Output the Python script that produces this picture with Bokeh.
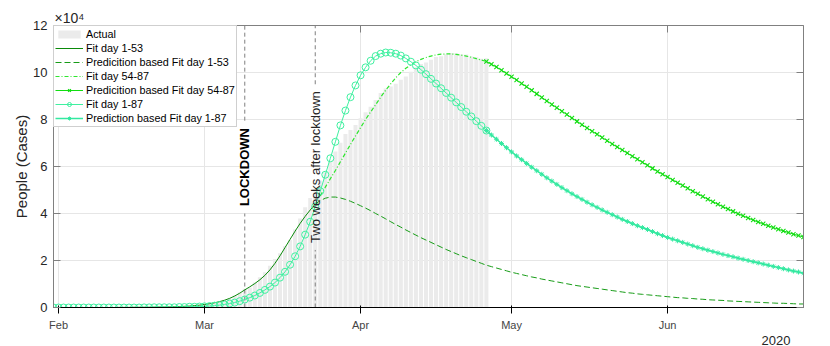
import pandas as pd
from math import pi
from bokeh.plotting import figure
from bokeh.models import (Range1d, FixedTicker, DatetimeTickFormatter, DatetimeAxis,
                          LinearAxis, Legend, LegendItem, Label, Title, ColumnDataSource)
from bokeh.embed import file_html
from bokeh.resources import INLINE

# ---------------- data ----------------
START = "2020-01-31"          # day 1
N_DAYS = 150
month_ticks = ["2020-02-01", "2020-03-01", "2020-04-01", "2020-05-01", "2020-06-01"]
month_labels = ["Feb", "Mar", "Apr", "May", "Jun"]
y_ticks = [0, 2, 4, 6, 8, 10, 12]
year_label = "2020"
exponent_label = "\u00d710\u2074"
lockdown_date = "2020-03-09"
two_weeks_date = "2020-03-23"

# actual active cases, day 1..87
actual = [2, 2, 2, 2, 2, 2, 3, 3, 3, 3, 3, 3, 3, 3, 3, 3, 3, 3, 3, 3, 3,
          17, 76, 150, 221, 311, 385, 588, 821, 1049,
          1577, 1835, 2263, 2706, 3296, 3916, 5061, 6387, 7985, 8514, 10590, 12839, 14955,
          17750, 20603, 23073, 26062, 28710, 33190, 37860, 42681, 46638, 50418, 54030,
          57521, 62013, 66414, 70065, 73880, 75528, 77635,
          80572, 83049, 85388, 88274, 91246, 93187, 94067, 95262, 96877, 98273, 100269,
          102253, 103616, 104291, 105418, 106607, 106962, 107771, 108257, 108237, 107709,
          107699, 106848, 106527, 105847, 106103]

# fits, in units of 10^4 people
fit_1_53 = [0, 0, 0, 0, 0, 0, 0, 0, 0, 0,
            0, 0, 0, 0.005, 0.005, 0.005, 0.01, 0.01, 0.01, 0.01,
            0.015, 0.02, 0.02, 0.025, 0.03, 0.04, 0.05, 0.06, 0.08, 0.10,
            0.13, 0.16, 0.20, 0.25, 0.31, 0.39, 0.49, 0.61, 0.75, 0.88,
            1.02, 1.18, 1.37, 1.60, 1.88, 2.20, 2.55, 2.90, 3.25, 3.58,
            3.88, 4.15, 4.40]                       # day 1..53
pred_1_53 = [4.40, 4.55, 4.65, 4.70, 4.70, 4.66, 4.60, 4.52, 4.43, 4.33,
             4.23, 4.12, 4.00, 3.89, 3.77, 3.65, 3.53, 3.42, 3.30, 3.19,
             3.08, 2.97, 2.87, 2.77, 2.67, 2.57, 2.47, 2.38, 2.29, 2.20,
             2.12, 2.04, 1.96, 1.88, 1.80, 1.74, 1.68, 1.62, 1.56, 1.50,
             1.45, 1.40, 1.35, 1.30, 1.26, 1.21, 1.17, 1.13, 1.09, 1.05,
             1.01, 0.97, 0.93, 0.90, 0.87, 0.84, 0.81, 0.78, 0.75, 0.72,
             0.69, 0.66, 0.63, 0.61, 0.58, 0.56, 0.54, 0.52, 0.50, 0.48,
             0.46, 0.44, 0.42, 0.41, 0.39, 0.38, 0.36, 0.35, 0.33, 0.32,
             0.31, 0.30, 0.28, 0.27, 0.26, 0.25, 0.24, 0.23, 0.22, 0.21,
             0.20, 0.19, 0.18, 0.18, 0.17, 0.16, 0.15, 0.15]   # day 53..150
fit_54_87 = [4.75, 5.12, 5.48, 5.83, 6.20, 6.57, 6.94, 7.30, 7.65, 8.00,
             8.32, 8.63, 8.95, 9.25, 9.52, 9.78, 10.00, 10.18, 10.33, 10.46,
             10.56, 10.64, 10.70, 10.75, 10.78, 10.79, 10.79, 10.77, 10.74, 10.70,
             10.65, 10.59, 10.53, 10.47]            # day 54..87
pred_54_87 = [10.47, 10.35, 10.23, 10.10, 9.96, 9.82, 9.68, 9.53, 9.39, 9.24,
              9.09, 8.94, 8.79, 8.64, 8.50, 8.35, 8.21, 8.06, 7.92, 7.78,
              7.64, 7.50, 7.37, 7.23, 7.10, 6.96, 6.83, 6.70, 6.57, 6.44,
              6.31, 6.18, 6.05, 5.92, 5.79, 5.67, 5.55, 5.43, 5.31, 5.19,
              5.07, 4.95, 4.84, 4.72, 4.61, 4.50, 4.39, 4.29, 4.19, 4.09,
              3.99, 3.90, 3.81, 3.72, 3.64, 3.56, 3.48, 3.40, 3.33, 3.26,
              3.19, 3.12, 3.06, 3.00]               # day 87..150
fit_1_87 = [0, 0, 0, 0, 0, 0, 0, 0, 0, 0,
            0, 0, 0, 0, 0, 0, 0, 0, 0.005, 0.005,
            0.01, 0.01, 0.01, 0.01, 0.01, 0.02, 0.02, 0.03, 0.03, 0.04,
            0.05, 0.06, 0.08, 0.10, 0.13, 0.17, 0.21, 0.27, 0.34, 0.42,
            0.51, 0.62, 0.75, 0.89, 1.06, 1.27, 1.52, 1.82, 2.18, 2.60,
            3.10, 3.65, 4.30, 4.95, 5.65, 6.35, 7.05, 7.75, 8.38, 8.95,
            9.45, 9.88, 10.22, 10.50, 10.70, 10.80, 10.85, 10.84, 10.80, 10.72,
            10.60, 10.46, 10.30, 10.12, 9.93, 9.73, 9.53, 9.33, 9.13, 8.93,
            8.73, 8.53, 8.33, 8.13, 7.93, 7.73, 7.53]   # day 1..87
pred_1_87 = [7.53, 7.34, 7.16, 6.98, 6.80, 6.62, 6.45, 6.29, 6.13, 5.97,
             5.82, 5.67, 5.52, 5.38, 5.24, 5.10, 4.97, 4.84, 4.72, 4.60,
             4.48, 4.37, 4.26, 4.15, 4.05, 3.95, 3.85, 3.75, 3.66, 3.57,
             3.48, 3.40, 3.32, 3.23, 3.14, 3.06, 2.98, 2.91, 2.84, 2.77,
             2.70, 2.63, 2.56, 2.50, 2.44, 2.38, 2.32, 2.26, 2.21, 2.16,
             2.10, 2.05, 2.00, 1.95, 1.90, 1.85, 1.80, 1.75, 1.70, 1.65,
             1.60, 1.55, 1.51, 1.46]                # day 87..150

# ---------------- helpers ----------------
dates = pd.date_range(START, periods=N_DAYS)
DAY_MS = 86400000.0


def ms(d):
    return pd.Timestamp(d).value / 1e6


def src(first_day, values, scale=1.0):
    x = dates[first_day - 1:first_day - 1 + len(values)]
    return ColumnDataSource(dict(x=x, y=[v * scale for v in values]))


FONT = "Liberation Sans"
TXT = "#262626"
AXC = "#808080"

p = figure(frame_width=750, frame_height=282, width=822, height=346,
           x_axis_type="datetime",
           x_range=Range1d(ms(dates[0]), ms(dates[-1])),
           y_range=Range1d(0, 12),
           output_backend="svg", toolbar_location=None,
           min_border_left=53, min_border_right=19, min_border_top=25, min_border_bottom=39,
           background_fill_color="white", border_fill_color="white")
p.outline_line_color = None

# exponent as the title, at the top-left of the frame
p.title.text = exponent_label
p.title.align = "left"
p.title.standoff = 0
p.title.offset = 1
p.title.text_font = FONT
p.title.text_font_size = "14px"
p.title.text_font_style = "normal"
p.title.text_color = TXT

xt = FixedTicker(ticks=[ms(t) for t in month_ticks])
yt = FixedTicker(ticks=y_ticks)
fmt = DatetimeTickFormatter(days="%b", months="%b", years="%b", hours="%b")

p.xaxis.ticker = xt
p.xaxis.formatter = fmt
p.xaxis.major_label_overrides = {ms(t): l for t, l in zip(month_ticks, month_labels)}
p.yaxis.ticker = yt
p.xgrid.ticker = xt
p.ygrid.ticker = yt
p.grid.grid_line_color = "#e6e6e6"
p.grid.grid_line_width = 1

top = DatetimeAxis(ticker=xt, formatter=fmt)
right = LinearAxis(ticker=yt)
p.add_layout(top, "above")
p.add_layout(right, "right")

for ax in [p.xaxis[0], p.yaxis[0], top, right]:
    ax.axis_line_color = AXC
    ax.major_tick_line_color = AXC
    ax.major_tick_in = 7
    ax.major_tick_out = 0
    ax.minor_tick_line_color = None
    ax.major_label_text_font = FONT
    ax.major_label_text_font_size = "13px"
    ax.major_label_text_color = TXT
for ax in [top, right]:
    ax.major_label_text_font_size = "1px"
    ax.major_label_text_color = None
    ax.major_label_standoff = 0

xa = p.xaxis[0]
xa.major_label_standoff = 8

ya = p.yaxis[0]
ya.major_label_standoff = 6
ya.axis_label = "People (Cases)"
ya.axis_label_text_font = FONT
ya.axis_label_text_font_size = "15px"
ya.axis_label_text_font_style = "normal"
ya.axis_label_text_color = TXT
ya.axis_label_standoff = 0

# year under the axis, right side
p.add_layout(Title(text=year_label, align="right", offset=13, standoff=0,
                   text_font=FONT, text_font_size="13px", text_font_style="normal",
                   text_color=TXT), "below")

# bars
r_act = p.vbar(x="x", top="y", width=0.8 * DAY_MS, source=src(1, actual, 1e-4),
               fill_color="#ebebeb", line_color=None)

# vertical lines with gaps for labels
ld, tw = ms(lockdown_date), ms(two_weeks_date)
lockdown_gap = (4.0, 7.95)
two_weeks_gap = (2.45, 9.5)
p.segment(x0=[ld, ld, tw, tw], x1=[ld, ld, tw, tw],
          y0=[0, lockdown_gap[1], 0, two_weeks_gap[1]],
          y1=[lockdown_gap[0], 12, two_weeks_gap[0], 12],
          line_color="#7f7f7f", line_dash="4 3", line_width=1)

# curves
C1 = "#0a8a0a"
C2 = "#179c17"
C3 = "#2ee62e"
C4 = "#11dd11"
C5 = "#3ff0a0"
C6 = "#33e9a0"

r1 = p.line("x", "y", source=src(1, fit_1_53), line_color=C1, line_width=1)
r2 = p.line("x", "y", source=src(53, pred_1_53), line_color=C2, line_width=1, line_dash="6 3")
r3 = p.line("x", "y", source=src(54, fit_54_87), line_color=C3, line_width=1.2, line_dash="4 2 1 2")
s4 = src(87, pred_54_87)
r4l = p.line("x", "y", source=s4, line_color=C4, line_width=1)
r4m = p.scatter("x", "y", source=s4, marker="x", size=6, line_color=C4, line_width=1.1)
s5 = src(1, fit_1_87)
r5l = p.line("x", "y", source=s5, line_color=C5, line_width=1)
r5m = p.scatter("x", "y", source=s5, marker="circle", size=7, line_color=C5,
                fill_color=None, line_width=1)
s6 = src(87, pred_1_87)
r6l = p.line("x", "y", source=s6, line_color=C6, line_width=1.5)
r6m = p.scatter("x", "y", source=s6, marker="asterisk", size=5, line_color=C6, line_width=1)

# line labels
p.add_layout(Label(x=ld, y=sum(lockdown_gap) / 2, text="LOCKDOWN", angle=pi / 2,
                   text_align="center", text_baseline="middle", text_font=FONT,
                   text_font_size="13px", text_font_style="bold", text_color="#000000"))
p.add_layout(Label(x=tw, y=sum(two_weeks_gap) / 2, text="Two weeks after lockdown", angle=pi / 2,
                   text_align="center", text_baseline="middle", text_font=FONT,
                   text_font_size="13px", text_color=TXT))

legend = Legend(items=[
    LegendItem(label="Actual", renderers=[r_act]),
    LegendItem(label="Fit day 1-53", renderers=[r1]),
    LegendItem(label="Predicition based Fit day 1-53", renderers=[r2]),
    LegendItem(label="Fit day 54-87", renderers=[r3]),
    LegendItem(label="Predicition based Fit day 54-87", renderers=[r4l, r4m]),
    LegendItem(label="Fit day 1-87", renderers=[r5l, r5m]),
    LegendItem(label="Prediction based Fit day 1-87", renderers=[r6l, r6m]),
], location="top_left", margin=0, padding=1, spacing=0,
    glyph_width=28, glyph_height=10, label_height=14, label_standoff=3,
    label_text_font=FONT, label_text_font_size="10.8px", label_text_color="#000000",
    border_line_color="#a0a0a0", border_line_width=1,
    background_fill_color="white", background_fill_alpha=1)
p.add_layout(legend)

open("out.html", "w").write(file_html(p, INLINE))
